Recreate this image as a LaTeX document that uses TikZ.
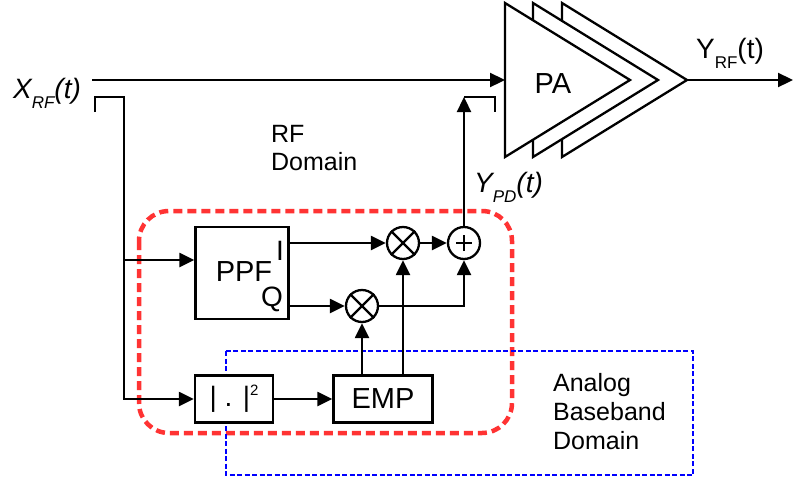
\documentclass[tikz,border=0pt]{standalone}
\usepackage{fontspec}
\setmainfont{Liberation Sans}
\usetikzlibrary{arrows.meta}
\definecolor{rfred}{RGB}{255,51,51}
\newcommand{\fs}[1]{\fontsize{#1}{#1}\selectfont}
\tikzset{
  sig/.style={-{Triangle[length=15pt,width=14pt]}},
  blk/.style={draw,fill=white,inner sep=0pt},
  mixer/.style={circle,draw,fill=white,minimum size=32pt,inner sep=0pt},
  lbl/.style={inner sep=0pt}
}

\begin{document}
\begin{tikzpicture}[x=1pt,y=-1pt,line width=2.3pt]
\useasboundingbox (0,0) rectangle (793,480);
% domains
\draw[rfred,line width=4.5pt,dash pattern=on 9pt off 5pt,rounded corners=30pt] (139,211) rectangle (512,433);
\draw[blue,line width=2.4pt,dash pattern=on 5pt off 2.5pt] (226,351) rectangle (693,475);
\node[lbl,anchor=north west,align=left,font=\fontsize{25}{28}\selectfont] (rfdom) at (270,124) {RF\\Domain};
\node[lbl,anchor=north west,align=left,font=\fontsize{25}{29}\selectfont] (bbdom) at (552,372) {Analog\\Baseband\\Domain};
% PA
\foreach \dx in {57,28,0}
  \draw[fill=white] (505+\dx,3) -- (505+\dx,157) -- (630+\dx,80) -- cycle;
\node[lbl,font=\fs{29}] (pa) at (553,84) {PA};
\coordinate (pain) at (505,80);
\coordinate (paout) at (687,80);
\coordinate (yout) at (793,80);
% blocks
\node[blk,minimum width=93pt,minimum height=92pt] (ppf) at (242,273) {};
\node[lbl,font=\fs{29}] (ppftxt) at (244,272) {PPF};
\node[lbl,font=\fs{28},anchor=base west] (itxt) at (275,260) {I};
\node[lbl,font=\fs{28},anchor=base east] (qtxt) at (284,306) {Q};
\node[blk,minimum width=78pt,minimum height=47pt,font=\fs{28}] (abs) at (234,399) {| . |\raisebox{11pt}{\fs{15}2}};
\node[blk,minimum width=99pt,minimum height=47pt,font=\fs{29}] (emp) at (383,399) {EMP};
\node[mixer] (m1) at (403,243) {};
\node[mixer] (m2) at (362,306) {};
\node[mixer] (add) at (464,243) {};
\draw (m1.north east) -- (m1.south west) (m1.north west) -- (m1.south east);
\draw (m2.north east) -- (m2.south west) (m2.north west) -- (m2.south east);
\draw ([xshift=-8pt]add.center) -- ([xshift=8pt]add.center) ([yshift=-8pt]add.center) -- ([yshift=8pt]add.center);
% signal paths
\coordinate (xin) at (92,80);
\coordinate (xtap) at (95,112);
\coordinate (xknee) at (124,97);
\coordinate (split) at (124,260);
\coordinate (fbk) at (464,97);
\coordinate (fbkend) at (495,112);
\draw[sig] (xin) -- (pain);
\draw (xtap) |- (xknee) -- (split);
\draw[sig] (split) |- (abs.west);
\draw[sig] (split) -- (split -| ppf.west);
\draw[sig] (ppf.east |- m1) -- (m1);
\draw[sig] (ppf.east |- m2) -- (m2);
\draw[sig] (m1) -- (add);
\draw[sig] (m2) -| (add);
\draw[sig] (abs) -- (emp);
\draw[sig] (emp.north -| m2) -- (m2);
\draw[sig] (emp.north -| m1) -- (m1);
\draw[sig] (add) -- (fbk);
\draw (fbk) -| (fbkend);
\draw[sig] (paout) -- (yout);
% labels
\node[lbl,anchor=base west,font=\fs{28}\itshape] (xlbl) at (12,98) {X\lower10pt\hbox{\fs{17}RF}(t)};
\node[lbl,anchor=base west,font=\fs{28}\itshape] (ypdlbl) at (473,192) {Y\lower10pt\hbox{\fs{17}PD}(t)};
\node[lbl,anchor=base west,font=\fs{28}] (yrflbl) at (695,58) {Y\lower10pt\hbox{\fs{17}RF}(t)};
\end{tikzpicture}
\end{document}
